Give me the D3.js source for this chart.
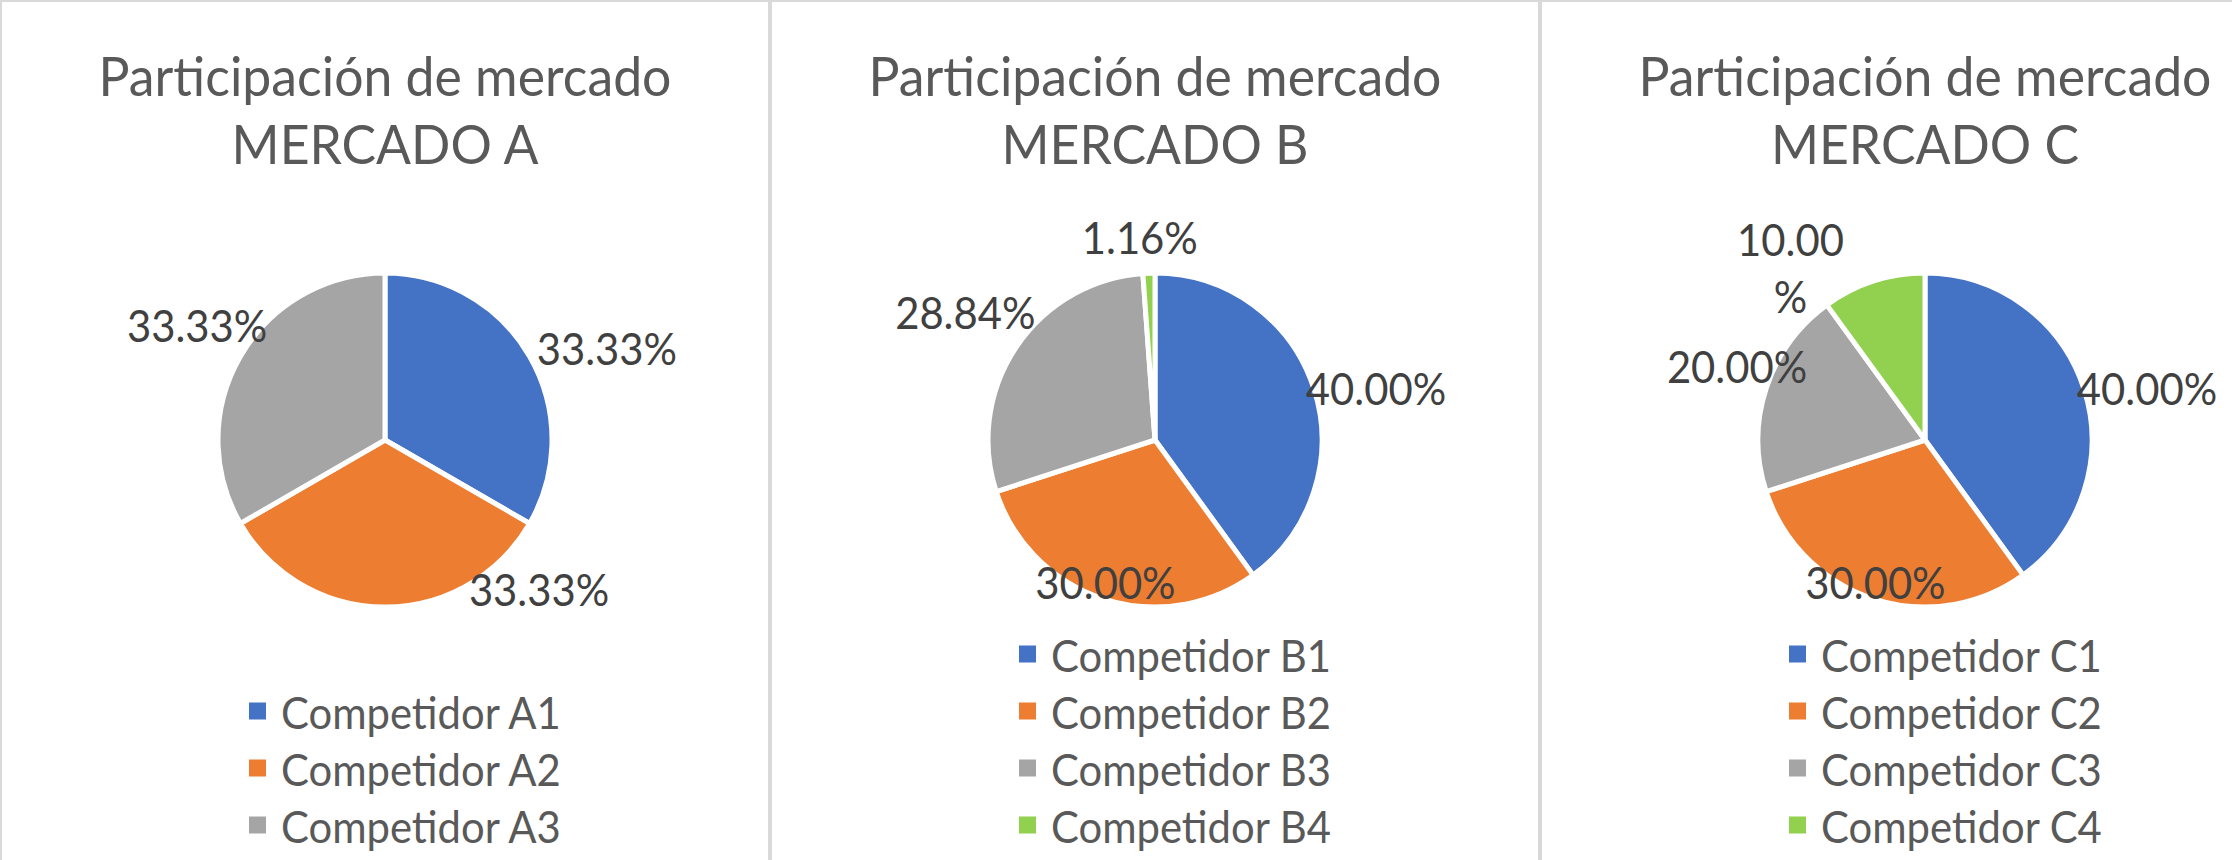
<!DOCTYPE html>
<html>
<head>
<meta charset="utf-8">
<script src="https://cdn.jsdelivr.net/npm/d3@7"></script>
<style>
  body { margin: 0; background: #fff; }
  text { font-family: Lato, "Open Sans", sans-serif; }
</style>
</head>
<body>
<svg></svg>
<script>
var width = 2232;
var height = 860;

// data
var titleLine = "Participación de mercado";
var markets = ["MERCADO A", "MERCADO B", "MERCADO C"];

var competitorsA = ["Competidor A1", "Competidor A2", "Competidor A3"];
var sharesA = [33.33, 33.33, 33.33];

var competitorsB = ["Competidor B1", "Competidor B2", "Competidor B3", "Competidor B4"];
var sharesB = [40.00, 30.00, 28.84, 1.16];

var competitorsC = ["Competidor C1", "Competidor C2", "Competidor C3", "Competidor C4"];
var sharesC = [40.00, 30.00, 20.00, 10.00];

var colors = ["#4472C4", "#ED7D31", "#A5A5A5", "#92D050"];

// label placement tweaks (Excel "best fit" moves some labels around)
var labelNudge = [
  [[27, 20], [154, -77], [7, -3]],
  [[7, 17], [20, -73], [-3, -3], [-7, 21]],
  [[8, 17], [20, -73], [26, -5], [-65, 40]]
];
var wrapLabel = [[], [], [3]];

var panels = [
  {title: markets[0], names: competitorsA, values: sharesA},
  {title: markets[1], names: competitorsB, values: sharesB},
  {title: markets[2], names: competitorsC, values: sharesC}
];

var panelWidth = 770;
var radius = 167;
var labelRadius = 225;
var pieY = 440;
// Lato is wider than the original Calibri: taller glyphs, squeezed sideways
var squeeze = 0.94;

var colorScale = d3.scaleOrdinal()
    .domain(d3.range(4))
    .range(colors);

var fmt = d3.format(".2f");

var svg = d3.select("svg")
    .attr("width", width)
    .attr("height", height);

var pie = d3.pie()
    .sort(null)
    .value(d => d.value);

var arc = d3.arc()
    .innerRadius(0)
    .outerRadius(radius);

// text placed at x,y but narrowed horizontally
function addText(parent, x, y, str, size, fill, anchor) {
  return parent.append("text")
      .attr("transform", "translate(" + x + "," + y + ") scale(" + squeeze + ",1)")
      .attr("text-anchor", anchor || "middle")
      .attr("dominant-baseline", "central")
      .attr("fill", fill)
      .attr("font-size", size / squeeze * 0.995)
      .text(str);
}

panels.forEach(function(p, i) {
  var x0 = i * panelWidth;
  var cx = x0 + panelWidth / 2;

  var g = svg.append("g").attr("class", "panel");

  // chart frame
  g.append("rect")
      .attr("x", x0 + 1)
      .attr("y", 1)
      .attr("width", panelWidth - 2)
      .attr("height", height + 20)
      .attr("fill", "none")
      .attr("stroke", "#d9d9d9")
      .attr("stroke-width", 2);

  // title
  addText(g, cx, 74, titleLine, 52, "#595959");
  addText(g, cx, 142, p.title, 52, "#595959");

  var rows = p.names.map((n, k) => ({name: n, value: p.values[k], k: k}));
  var total = d3.sum(p.values);
  var arcs = pie(rows);

  var chart = g.append("g")
      .attr("transform", "translate(" + cx + "," + pieY + ")");

  chart.selectAll(".arc")
      .data(arcs)
      .enter()
      .append("path")
        .classed("arc", true)
        .attr("fill", d => colorScale(d.data.k))
        .attr("stroke", "#fff")
        .attr("stroke-width", 5)
        .attr("stroke-linejoin", "round")
        .attr("d", arc);

  // data labels
  arcs.forEach(function(d, k) {
    var mid = (d.startAngle + d.endAngle) / 2;
    var x = Math.sin(mid) * labelRadius + labelNudge[i][k][0];
    var y = -Math.cos(mid) * labelRadius + labelNudge[i][k][1];
    var txt = fmt(d.data.value / total * 100) + "%";
    if (wrapLabel[i].indexOf(k) > -1) {
      addText(chart, x, y - 28, txt.slice(0, -1), 42, "#404040");
      addText(chart, x, y + 29, "%", 42, "#404040");
    } else {
      addText(chart, x, y, txt, 42, "#404040");
    }
  });

  // legend, stacked from the bottom
  var rowGap = 57;
  var lastRow = 825;
  var legend = g.append("g")
      .attr("transform", "translate(" + (cx - 136) + "," + (lastRow - (rows.length - 1) * rowGap) + ")");

  var item = legend.selectAll(".item")
      .data(rows)
      .enter()
      .append("g")
        .classed("item", true)
        .attr("transform", d => "translate(0," + d.k * rowGap + ")");

  item.append("rect")
      .attr("x", 0)
      .attr("y", -8.5)
      .attr("width", 17)
      .attr("height", 17)
      .attr("fill", d => colorScale(d.k));

  item.each(function(d) {
    addText(d3.select(this), 32, 0, d.name, 42, "#595959", "start");
  });
});
</script>
</body>
</html>
